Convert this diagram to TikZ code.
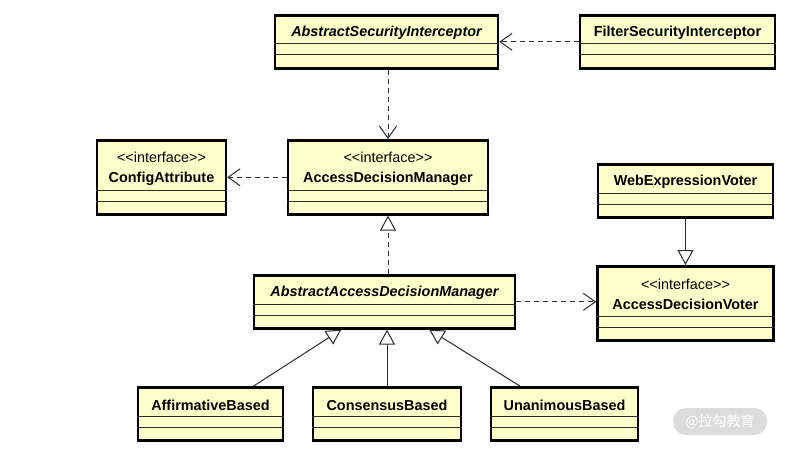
\documentclass[tikz,border=0pt]{standalone}
\usepackage{fontspec}
\setmainfont{Liberation Sans}
\newfontfamily\cjkfont{Noto Sans CJK SC}
\usetikzlibrary{arrows.meta}
\definecolor{umlfill}{HTML}{FFFFCC}
\definecolor{umlline}{HTML}{2B2B2B}
\definecolor{markgray}{HTML}{DCDCDC}

% class box: id, centre x, top y, width, name height, name text
\newcommand{\umlclass}[6]{%
  \node[umlbox, minimum width=#4pt, minimum height=#5pt+23pt, anchor=north] (#1) at (#2,#3) {};
  \node[umlname] (#1-name) at ([yshift=-#5pt/2-4pt]#1.north) {#6};
  \draw[umlsep] ([yshift=-#5pt]#1.north west) -- ([yshift=-#5pt]#1.north east);
  \draw[umlsep] ([yshift=-#5pt-11pt]#1.north west) -- ([yshift=-#5pt-11pt]#1.north east);
}

\tikzset{
  umlbox/.style={draw=black, fill=umlfill, line width=2.6pt, inner sep=0pt},
  umlname/.style={font=\fontsize{14.4}{20}\selectfont\bfseries, align=center, inner sep=0pt},
  umlsep/.style={draw=umlline, line width=1pt},
  depend/.style={draw=umlline, line width=1pt, dash pattern=on 5pt off 4pt,
    -{Straight Barb[length=12pt, width=17pt, line width=1pt]}},
  realize/.style={draw=umlline, line width=1pt, dash pattern=on 5pt off 4pt,
    -{Triangle[length=15pt, width=16pt, fill=white, line width=1pt]}},
  inherit/.style={draw=umlline, line width=1pt,
    -{Triangle[length=15pt, width=16pt, fill=white, line width=1pt]}},
  watermark/.style={fill=markgray, text=white, rounded corners=13pt, minimum width=94pt,
    minimum height=27pt, font=\cjkfont\fontsize{14}{16}\selectfont}
}

\begin{document}
\begin{tikzpicture}[x=1pt, y=-1pt]
        \useasboundingbox (0,0) rectangle (810,457);
        % top row
        \umlclass{asi}{386.5}{14}{223}{30}{\itshape AbstractSecurityInterceptor}
        \umlclass{fsi}{677.5}{14}{195}{30}{FilterSecurityInterceptor}
        % interfaces
        \umlclass{ca}{161.5}{139}{129}{51}{\mdseries <{}<interface>{}>\\ ConfigAttribute}
        \umlclass{adm}{388}{139}{200}{51}{\mdseries <{}<interface>{}>\\ AccessDecisionManager}
        \umlclass{wev}{685.5}{163}{175}{30}{WebExpressionVoter}
        \umlclass{adv}{685.5}{265}{176}{51}{\mdseries <{}<interface>{}>\\ AccessDecisionVoter}
        % abstract manager
        \umlclass{aadm}{384.5}{274}{261}{30}{\itshape AbstractAccessDecisionManager}
        % concrete managers
        \umlclass{aff}{210.5}{386}{145}{30}{AffirmativeBased}
        \umlclass{con}{387}{386}{148}{30}{ConsensusBased}
        \umlclass{una}{564.5}{386}{147}{30}{UnanimousBased}
        % dependencies
        \draw[depend] (fsi.west) -- (asi.east);
        \draw[depend] (asi.south -| adm.north) -- (adm.north);
        \draw[depend] (adm.west) -- (ca.east);
        \draw[depend] (aadm.east) -- (aadm.east -| adv.west);
        % realization
        \draw[realize] (adm.south |- aadm.north) -- (adm.south);
        % generalization
        \draw[inherit] (wev.south) -- (adv.north);
        \draw[inherit] (aff) -- (aadm);
        \draw[inherit] (con.north) -- (con.north |- aadm.south);
        \draw[inherit] (una) -- (aadm);
        % watermark
        \node[watermark] (mark) at (720,421.5) {@拉勾教育};
    \end{tikzpicture}
\end{document}
